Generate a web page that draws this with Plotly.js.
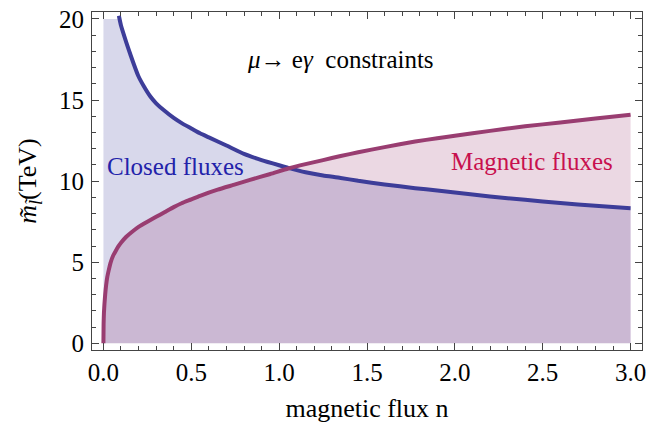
<!DOCTYPE html>
<html>
<head>
<meta charset="utf-8">
<script src="https://cdn.plot.ly/plotly-3.0.1.min.js"></script>
<style>html,body{margin:0;padding:0;background:#fff;}#chart{width:648px;height:423px;}</style>
</head>
<body>
<div id="chart"></div>
<script>
// Closed fluxes constraint curve (blue)
const closedX = [0.088, 0.10, 0.12, 0.141, 0.17, 0.198, 0.23, 0.265, 0.30, 0.341, 0.40, 0.45, 0.5, 0.55, 0.6, 0.7, 0.8, 0.9, 1.0, 1.052, 1.15, 1.25, 1.35, 1.45, 1.6, 1.774, 1.9, 2.0, 2.2, 2.4, 2.6, 2.8, 3.0];
const closedY = [20.2, 19.6, 18.9, 18.2, 17.3, 16.5, 15.85, 15.25, 14.8, 14.4, 13.9, 13.55, 13.25, 12.95, 12.7, 12.2, 11.68, 11.3, 10.98, 10.82, 10.55, 10.35, 10.2, 10.02, 9.8, 9.57, 9.42, 9.3, 9.05, 8.85, 8.65, 8.48, 8.33];
// Magnetic fluxes constraint curve (red)
const magX = [0, 0.001, 0.003, 0.006, 0.01, 0.015, 0.022, 0.03, 0.04, 0.055, 0.07, 0.084, 0.1, 0.13, 0.16, 0.2, 0.25, 0.3, 0.35, 0.4, 0.445, 0.5, 0.55, 0.65, 0.75, 0.834, 0.95, 1.052, 1.15, 1.25, 1.35, 1.45, 1.6, 1.774, 1.9, 2.0, 2.2, 2.4, 2.6, 2.8, 3.0];
const magY = [0, 1.2, 1.9, 2.45, 3.0, 3.55, 4.1, 4.5, 4.95, 5.4, 5.7, 5.96, 6.2, 6.57, 6.85, 7.18, 7.5, 7.8, 8.1, 8.4, 8.64, 8.88, 9.1, 9.48, 9.8, 10.08, 10.44, 10.78, 11.05, 11.3, 11.55, 11.78, 12.1, 12.44, 12.65, 12.8, 13.1, 13.38, 13.62, 13.86, 14.09];
const plotTop = 20;
const xTickVals = [0, 0.5, 1, 1.5, 2, 2.5, 3];
const xTickText = ["0.0", "0.5", "1.0", "1.5", "2.0", "2.5", "3.0"];
const yTickVals = [0, 5, 10, 15, 20];
const yTickText = ["0", "5", "10", "15", "20"];

const blueLine = '#3d3d99', redLine = '#993d71';
const fillBlueX = [0].concat(closedX);
const fillBlueY = [plotTop].concat(closedY.map(v => Math.min(v, plotTop)));

const traces = [
  {x: fillBlueX, y: fillBlueY, mode: 'none', fill: 'tozeroy', fillcolor: 'rgba(61,61,153,0.2)', hoverinfo: 'skip', showlegend: false},
  {x: magX, y: magY, mode: 'none', fill: 'tozeroy', fillcolor: 'rgba(153,61,113,0.2)', hoverinfo: 'skip', showlegend: false},
  {x: closedX, y: closedY, mode: 'lines', line: {color: blueLine, width: 4, shape: 'spline', smoothing: 0.5}, showlegend: false},
  {x: magX, y: magY, mode: 'lines', line: {color: redLine, width: 4, shape: 'spline', smoothing: 0.5}, showlegend: false}
];

const serif = 'Liberation Serif';
const fs = 25;
const axisCommon = {
  showgrid: false, zeroline: false, showline: true, linecolor: '#444', linewidth: 1,
  mirror: 'ticks', ticks: 'inside', ticklen: 7, tickwidth: 1, tickcolor: '#444',
  tickfont: {family: serif, size: fs, color: '#000'}
};
const layout = {
  width: 648, height: 423,
  margin: {l: 92, r: 6, t: 12, b: 73},
  paper_bgcolor: '#fff', plot_bgcolor: '#fff',
  font: {family: serif, size: fs, color: '#000'},
  xaxis: Object.assign({}, axisCommon, {
    range: [-0.065, 3.065], tickvals: xTickVals, ticktext: xTickText,
    minor: {dtick: 0.1, tick0: 0, ticks: 'inside', ticklen: 4, tickcolor: '#444', tickwidth: 1},
    ticklabelstandoff: 0,
    title: {text: 'magnetic flux n', font: {family: serif, size: 26, color: '#000'}, standoff: 14}
  }),
  yaxis: Object.assign({}, axisCommon, {
    range: [-0.41, 20.43], tickvals: yTickVals, ticktext: yTickText,
    minor: {dtick: 1, tick0: 0, ticks: 'inside', ticklen: 4, tickcolor: '#444', tickwidth: 1},
    ticklabelstandoff: 2,
    title: {text: '<i>m̃</i><sub><i>l̃</i></sub>(TeV)', font: {family: serif, size: 26, color: '#000'}, standoff: 14}
  }),
  annotations: [
    {x: 1.347, y: 17.5, xref: 'x', yref: 'y', text: '<i>μ</i>→ e<i>γ</i>\u00a0\u00a0constraints', showarrow: false, font: {family: serif, size: 25, color: '#000'}},
    {x: 0.413, y: 10.9, xref: 'x', yref: 'y', text: 'Closed fluxes', showarrow: false, font: {family: serif, size: 25, color: '#2222aa'}},
    {x: 2.437, y: 11.22, xref: 'x', yref: 'y', text: 'Magnetic fluxes', showarrow: false, font: {family: serif, size: 25, color: '#c8104e'}}
  ]
};
Plotly.newPlot('chart', traces, layout, {staticPlot: true, displayModeBar: false});
</script>
</body>
</html>
